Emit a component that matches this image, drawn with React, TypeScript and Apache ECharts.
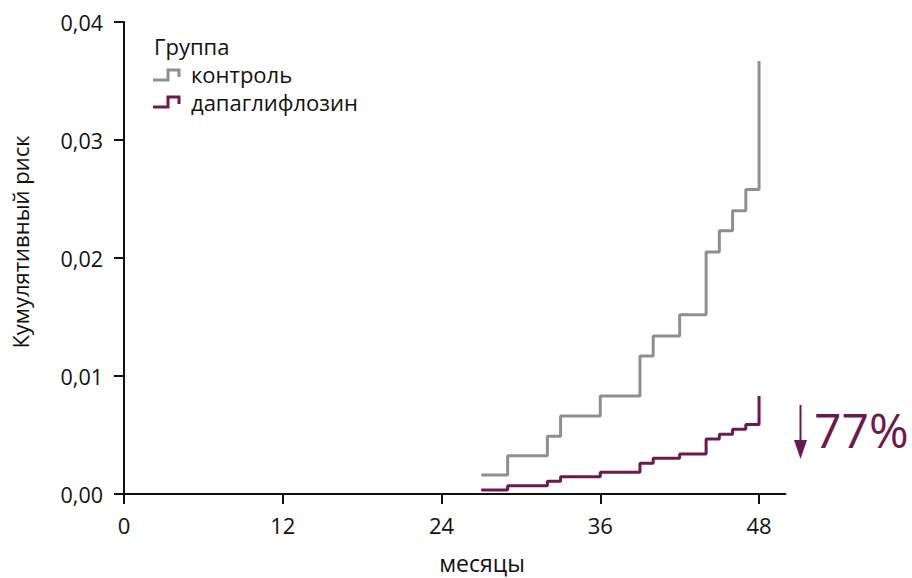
import React, { useEffect, useRef } from "react";
import * as echarts from "echarts";

const xTicks = [0, 12, 24, 36, 48];
const yTicks = [0, 0.01, 0.02, 0.03, 0.04];

const controlMonths = [27, 29, 32, 33, 36, 39, 40, 42, 44, 45, 46, 47, 48];
const controlRisk = [0.0016, 0.00325, 0.0049, 0.0066, 0.0083, 0.0117, 0.0134, 0.0152, 0.0205, 0.0223, 0.024, 0.0258, 0.0367];

const dapaMonths = [27, 29, 32, 33, 36, 39, 40, 42, 44, 45, 46, 47, 48];
const dapaRisk = [0.00034, 0.0007, 0.00107, 0.00147, 0.00184, 0.0026, 0.00302, 0.0034, 0.00466, 0.00506, 0.00548, 0.0059, 0.0083];

const seriesNames = ["контроль", "дапаглифлозин"];
const legendTitle = "Группа";
const xName = "месяцы";
const yName = "Кумулятивный риск";
const reductionLabel = "77%";

const GRAY = "#8f8f8f";
const PURPLE = "#6c1a4c";
const FONT = "'Open Sans', 'Noto Sans', sans-serif";

export default function App() {
  const ref = useRef<HTMLDivElement>(null);

  useEffect(() => {
    if (!ref.current) return;
    const chart = echarts.init(ref.current, null, { renderer: "svg" });
    const fmt = (v: number) => v.toFixed(2).replace(".", ",");
    const legendText = (text: string, y: number) => ({
      type: "text",
      x: text === legendTitle ? 154 : 191,
      y,
      style: { text, font: `22px ${FONT}`, fill: "#111", verticalAlign: "middle" },
    });

    chart.setOption({
      animation: false,
      backgroundColor: "#ffffff",
      grid: { left: 124, right: 126.5, top: 22, bottom: 84 },
      xAxis: {
        type: "value",
        min: 0,
        max: 50,
        interval: 12,
        axisLine: { show: true, lineStyle: { color: "#111", width: 2 } },
        axisTick: { show: true, length: 10, lineStyle: { color: "#111", width: 2 }, customValues: xTicks },
        axisLabel: { color: "#111", fontSize: 22, fontFamily: FONT, margin: 20, customValues: xTicks },
        splitLine: { show: false },
      },
      yAxis: {
        type: "value",
        min: 0,
        max: 0.04,
        interval: 0.01,
        axisLine: { show: true, lineStyle: { color: "#111", width: 2 } },
        axisTick: { show: true, length: 10, lineStyle: { color: "#111", width: 2 }, customValues: yTicks },
        axisLabel: { color: "#111", fontSize: 21.5, fontFamily: FONT, margin: 21, formatter: fmt, customValues: yTicks },
        splitLine: { show: false },
      },
      series: [
        {
          name: seriesNames[0],
          type: "line",
          step: "end",
          symbol: "none",
          lineStyle: { color: GRAY, width: 3 },
          data: controlMonths.map((m, i) => [m, controlRisk[i]]),
        },
        {
          name: seriesNames[1],
          type: "line",
          step: "end",
          symbol: "none",
          lineStyle: { color: PURPLE, width: 3 },
          data: dapaMonths.map((m, i) => [m, dapaRisk[i]]),
        },
      ],
      graphic: [
        legendText(legendTitle, 46),
        {
          type: "polyline",
          shape: { points: [[153, 80], [168, 80], [168, 70], [179, 70], [179, 77]] },
          style: { stroke: GRAY, lineWidth: 3, fill: "none" },
        },
        legendText(seriesNames[0], 73.5),
        {
          type: "polyline",
          shape: { points: [[153, 107], [168, 107], [168, 97], [179, 97], [179, 104]] },
          style: { stroke: PURPLE, lineWidth: 3, fill: "none" },
        },
        legendText(seriesNames[1], 101.5),
        {
          type: "text",
          x: 20,
          y: 242,
          rotation: Math.PI / 2,
          style: { text: yName, font: `22px ${FONT}`, fill: "#111", align: "center", verticalAlign: "middle" },
        },
        {
          type: "text",
          x: 482,
          y: 563,
          style: { text: xName, font: `23px ${FONT}`, fill: "#111", align: "center", verticalAlign: "middle" },
        },
        {
          type: "line",
          shape: { x1: 800.5, y1: 405, x2: 800.5, y2: 446 },
          style: { stroke: PURPLE, lineWidth: 2 },
        },
        {
          type: "polygon",
          shape: { points: [[794, 440], [807, 440], [800.5, 459]] },
          style: { fill: PURPLE },
        },
        {
          type: "text",
          x: 814,
          y: 429,
          style: { text: reductionLabel, font: `48px ${FONT}`, fill: PURPLE, verticalAlign: "middle" },
        },
      ],
    });

    return () => chart.dispose();
  }, []);

  return (
    <div
      ref={ref}
      style={{ position: "fixed", left: 0, top: 0, width: 912, height: 578 }}
    />
  );
}
